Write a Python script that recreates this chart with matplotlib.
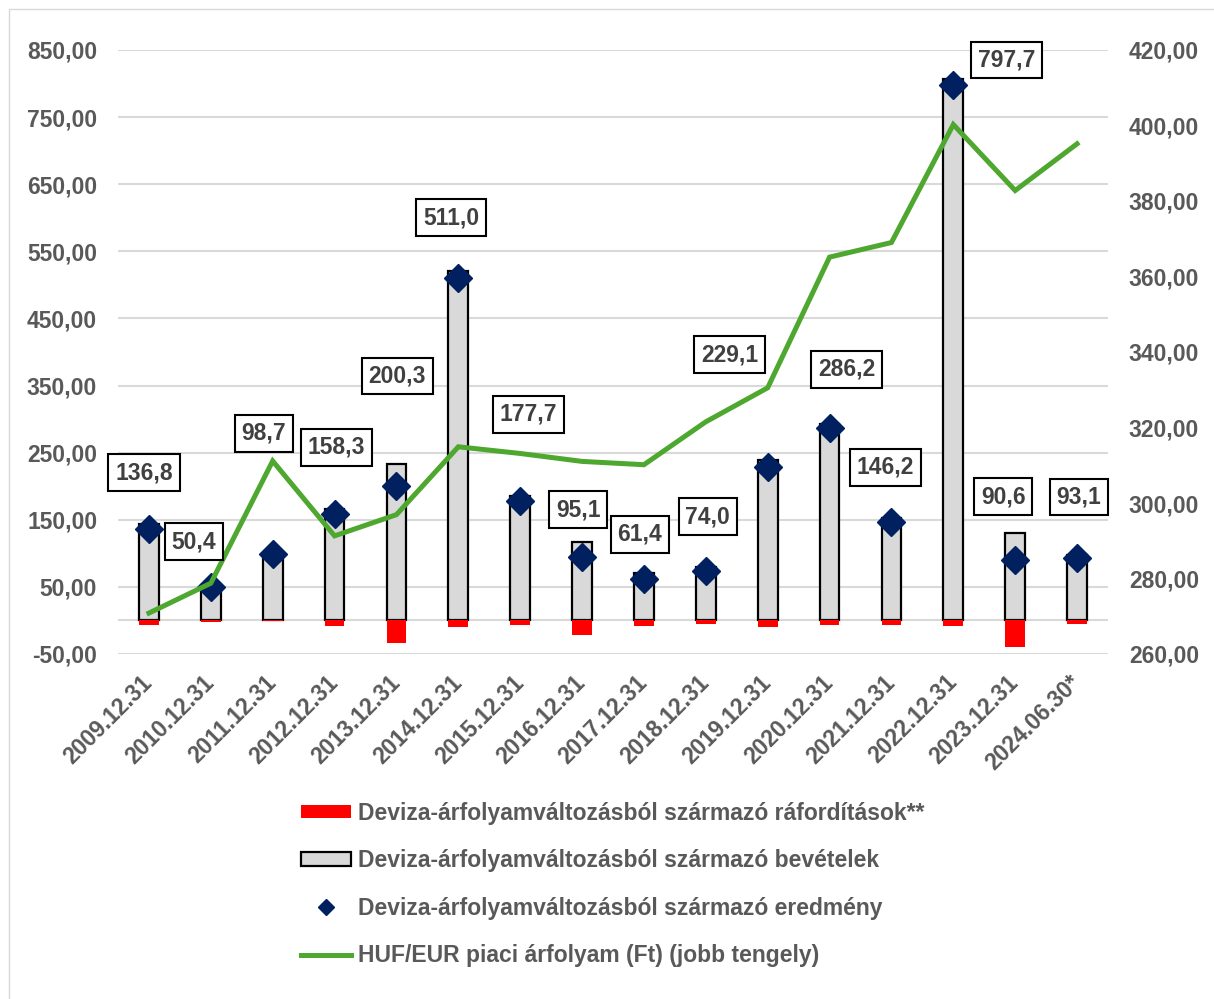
import matplotlib.pyplot as plt
from matplotlib.patches import Rectangle, Patch
from matplotlib.lines import Line2D

# Adatok
categories = ['2009.12.31', '2010.12.31', '2011.12.31', '2012.12.31', '2013.12.31',
              '2014.12.31', '2015.12.31', '2016.12.31', '2017.12.31', '2018.12.31',
              '2019.12.31', '2020.12.31', '2021.12.31', '2022.12.31', '2023.12.31',
              '2024.06.30*']
bevetelek = [143.8, 52.4, 100.2, 166.3, 233.3, 521.0, 184.7, 117.1, 70.4, 79.0,
             239.1, 293.2, 153.2, 806.7, 129.6, 98.1]
raforditasok = [7.0, 2.0, 1.5, 8.0, 33.0, 10.0, 7.0, 22.0, 9.0, 5.0,
                10.0, 7.0, 7.0, 9.0, 39.0, 5.0]
eredmeny = [136.8, 50.4, 98.7, 158.3, 200.3, 511.0, 177.7, 95.1, 61.4, 74.0,
            229.1, 286.2, 146.2, 797.7, 90.6, 93.1]
arfolyam = [270.84, 278.75, 311.13, 291.29, 296.91, 314.89, 313.12, 311.02, 310.14,
            321.51, 330.52, 365.13, 369.00, 400.25, 382.78, 395.15]

legend_labels = ['Deviza-árfolyamváltozásból származó ráfordítások**',
                 'Deviza-árfolyamváltozásból származó bevételek',
                 'Deviza-árfolyamváltozásból származó eredmény',
                 'HUF/EUR piaci árfolyam (Ft) (jobb tengely)']

# címkék eltolása pixelben (x, y) a rombuszhoz képest
label_offsets = [(-5, 56), (-17, 45), (-9, 121), (2, 67), (1, 110), (-7, 60),
                 (8, 87), (-4, 47), (-4, 45), (2, 54), (-38, 112), (17, 59),
                 (-6, 55), (53, 25), (-12, 63), (2, 61)]

plt.rcParams['font.family'] = ['Liberation Sans', 'DejaVu Sans']
FS = 16.5
TXT = '#595959'
LBL = '#404040'
GRID = '#d9d9d9'
GREEN = '#4ea72e'
NAVY = '#002060'

fig = plt.figure(figsize=(12.14, 9.99), dpi=100)
ax = fig.add_axes([118 / 1214, 1 - 654 / 999, 990 / 1214, 604 / 999])
ax2 = ax.twinx()

x = list(range(len(categories)))
w = 0.32

ax.bar(x, bevetelek, width=w, facecolor='#d9d9d9', edgecolor='black', linewidth=1.6, zorder=2)
ax.bar(x, [-r for r in raforditasok], width=w, color='#ff0000', zorder=2)
ax.plot(x, eredmeny, linestyle='none', marker='D', markersize=14, color=NAVY, zorder=3)
ax2.plot(x, arfolyam, color=GREEN, linewidth=3.6, solid_joinstyle='miter')

# tengelyek
ax.set_xlim(-0.5, len(categories) - 0.5)
ax.set_ylim(-50, 850)
ax.set_yticks(range(-50, 851, 100))
ax.set_yticklabels([f'{v:.2f}'.replace('.', ',') for v in range(-50, 851, 100)])
ax2.set_ylim(260, 420)
ax2.set_yticks(range(260, 421, 20))
ax2.set_yticklabels([f'{v:.2f}'.replace('.', ',') for v in range(260, 421, 20)])

ax.grid(axis='y', color=GRID, linewidth=1.5, zorder=0)
ax.set_axisbelow(True)
ax.axhline(0, color=GRID, linewidth=1.5, zorder=1)

for a in (ax, ax2):
    for s in a.spines.values():
        s.set_visible(False)
    a.tick_params(length=0, labelsize=FS, labelcolor=TXT)
ax.tick_params(axis='y', pad=15)
ax2.tick_params(axis='y', pad=15)
for t in ax.get_yticklabels() + ax2.get_yticklabels():
    t.set_fontweight('bold')

ax.set_xticks(x)
ax.set_xticklabels(categories, rotation=45, ha='right', va='center', rotation_mode='anchor',
                   fontweight='bold', fontsize=FS, color=TXT)
ax.tick_params(axis='x', pad=18)

# adatcímkék
for i in x:
    ax2.annotate(f'{eredmeny[i]:.1f}'.replace('.', ','), xy=(i, eredmeny[i]),
                 xycoords=ax.transData, xytext=label_offsets[i], textcoords='offset pixels',
                 ha='center', va='center', fontsize=FS, fontweight='bold', color=LBL,
                 bbox=dict(boxstyle='square,pad=0.3', facecolor='white', edgecolor='black', linewidth=1.5),
                 zorder=5)

# jelmagyarázat
handles = [Patch(facecolor='#ff0000', edgecolor='none'),
           Patch(facecolor='#d9d9d9', edgecolor='black', linewidth=1.6),
           Line2D([], [], linestyle='none', marker='D', markersize=8, color=NAVY),
           Line2D([], [], color=GREEN, linewidth=3.6)]
leg = fig.legend(handles, legend_labels, loc='upper left', bbox_to_anchor=(280 / 1214, 1 - 781 / 999),
                 frameon=False, prop={'size': FS, 'weight': 'bold'}, handlelength=2.2,
                 handleheight=0.55, handletextpad=0.3, labelspacing=1.07)
for t in leg.get_texts():
    t.set_color(TXT)

# diagram kerete
fig.patches.append(Rectangle((9 / 1214, -0.01), 1.0, 1 - 9 / 999 + 0.01, transform=fig.transFigure,
                             fill=False, edgecolor=GRID, linewidth=1))

plt.savefig('out.png', dpi=100)
plt.close(fig)
